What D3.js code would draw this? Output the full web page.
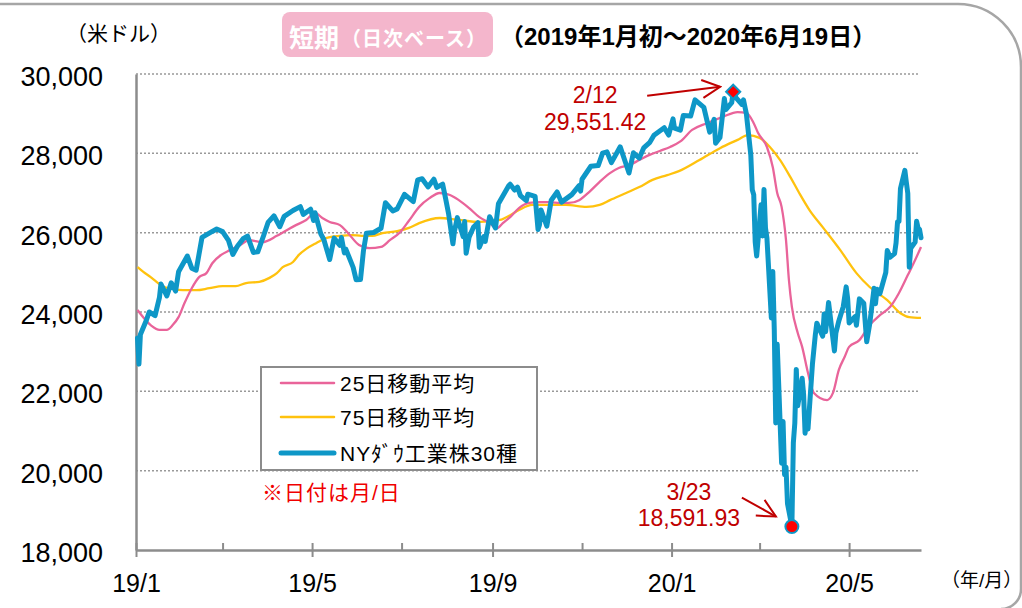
<!DOCTYPE html>
<html>
<head>
<meta charset="utf-8">
<script src="https://cdn.jsdelivr.net/npm/d3@7"></script>
<style>
  body { margin: 0; background: #fff; }
  svg { display: block; font-family: "Liberation Sans", Arial, "Noto Sans CJK JP", sans-serif; }
</style>
</head>
<body>
<div id="vis"></div>
<script>
const dowDates = [
  "2019-01-02","2019-01-03","2019-01-04","2019-01-08","2019-01-10","2019-01-14","2019-01-17","2019-01-18",
  "2019-01-22","2019-01-25","2019-01-28","2019-01-30","2019-02-05","2019-02-08","2019-02-11","2019-02-15",
  "2019-02-22","2019-02-25","2019-03-01","2019-03-05","2019-03-08","2019-03-11","2019-03-15","2019-03-18",
  "2019-03-22","2019-03-25","2019-03-29","2019-04-01","2019-04-05","2019-04-09","2019-04-12","2019-04-18",
  "2019-04-23","2019-04-25","2019-04-30","2019-05-02","2019-05-03","2019-05-07","2019-05-09","2019-05-13",
  "2019-05-16","2019-05-20","2019-05-21","2019-05-23","2019-05-24","2019-05-29","2019-05-31","2019-06-03",
  "2019-06-05","2019-06-07","2019-06-12","2019-06-17","2019-06-20","2019-06-25","2019-06-28","2019-07-03",
  "2019-07-09","2019-07-12","2019-07-15","2019-07-19","2019-07-23","2019-07-25","2019-07-29","2019-07-31",
  "2019-08-02","2019-08-05","2019-08-06","2019-08-08","2019-08-12","2019-08-13","2019-08-14","2019-08-16",
  "2019-08-19","2019-08-22","2019-08-23","2019-08-26","2019-08-27","2019-08-30","2019-09-03","2019-09-05",
  "2019-09-12","2019-09-13","2019-09-16","2019-09-18","2019-09-20","2019-09-24","2019-09-25","2019-09-30",
  "2019-10-02","2019-10-03","2019-10-04","2019-10-08","2019-10-11","2019-10-15","2019-10-18","2019-10-25",
  "2019-10-30","2019-10-31","2019-11-01","2019-11-07","2019-11-12","2019-11-15","2019-11-18","2019-11-21",
  "2019-11-27","2019-12-03","2019-12-06","2019-12-10","2019-12-13","2019-12-17","2019-12-20","2019-12-27",
  "2019-12-30","2020-01-02","2020-01-03","2020-01-07","2020-01-09","2020-01-14","2020-01-17","2020-01-23",
  "2020-01-27","2020-01-30","2020-01-31","2020-02-03","2020-02-06","2020-02-07","2020-02-11","2020-02-12",
  "2020-02-14","2020-02-18","2020-02-19","2020-02-21","2020-02-24","2020-02-25","2020-02-26","2020-02-27",
  "2020-02-28","2020-03-02","2020-03-03","2020-03-04","2020-03-05","2020-03-06","2020-03-09","2020-03-10",
  "2020-03-11","2020-03-12","2020-03-13","2020-03-16","2020-03-17","2020-03-18","2020-03-19","2020-03-20",
  "2020-03-23","2020-03-24","2020-03-25","2020-03-26","2020-03-27","2020-03-30","2020-03-31","2020-04-01",
  "2020-04-02","2020-04-03","2020-04-06","2020-04-08","2020-04-09","2020-04-13","2020-04-14","2020-04-15",
  "2020-04-17","2020-04-21","2020-04-22","2020-04-24","2020-04-27","2020-04-29","2020-04-30","2020-05-01",
  "2020-05-05","2020-05-06","2020-05-08","2020-05-11","2020-05-13","2020-05-15","2020-05-18","2020-05-19",
  "2020-05-20","2020-05-22","2020-05-26","2020-05-27","2020-05-29","2020-06-01","2020-06-02","2020-06-03",
  "2020-06-04","2020-06-05","2020-06-08","2020-06-09","2020-06-10","2020-06-11","2020-06-12","2020-06-15",
  "2020-06-16","2020-06-17","2020-06-18","2020-06-19"
];
const dowValues = [
  23346, 22686, 23433, 23787, 24001, 23910, 24370, 24706,
  24405, 24737, 24528, 25014, 25411, 25106, 25053, 25883,
  26031, 26091, 26026, 25806, 25450, 25650, 25849, 25914,
  25502, 25516, 25929, 26258, 26425, 26150, 26412, 26559,
  26656, 26462, 26592, 26307, 26504, 25965, 25828, 25324,
  25862, 25679, 25877, 25490, 25586, 25126, 24815, 24819,
  25540, 25984, 26004, 26112, 26753, 26548, 26600, 26966,
  26783, 27332, 27359, 27154, 27349, 27141, 27222, 26864,
  26485, 25718, 26030, 26379, 25897, 26280, 25480, 25886,
  26135, 26253, 25629, 25899, 25778, 26403, 26118, 26728,
  27182, 27220, 27076, 27147, 26935, 26808, 26970, 26917,
  26079, 26201, 26573, 26165, 26817, 27025, 26770, 26959,
  27186, 27046, 27347, 27675, 27691, 28005, 28036, 27766,
  28164, 27503, 28015, 27881, 28135, 28268, 28455, 28645,
  28462, 28868, 28635, 28583, 28956, 28940, 29348, 29160,
  28535, 28859, 28256, 28400, 29380, 29103, 29276, 29551,
  29398, 29232, 29348, 28992, 27961, 27081, 26957, 25766,
  25409, 26703, 25917, 27091, 26121, 25865, 23851, 25018,
  23553, 21201, 23186, 20189, 21237, 19899, 20087, 19174,
  18592, 20705, 21200, 22552, 21637, 22328, 21917, 20944,
  21413, 21053, 22680, 23434, 23719, 23390, 23950, 23505,
  24242, 23019, 23475, 23775, 24134, 24634, 24346, 23724,
  23883, 23665, 24331, 24222, 23248, 23686, 24598, 24207,
  24576, 24465, 24995, 25548, 25383, 25475, 25742, 26270,
  26282, 27111, 27572, 27272, 26990, 25128, 25606, 25763,
  26290, 26120, 26080, 25871
];

// 25-day moving average
const ma25Dates = [
  "2019-01-02","2019-01-11","2019-01-17","2019-01-22","2019-01-26","2019-01-30","2019-02-03","2019-02-08",
  "2019-02-13","2019-02-18","2019-02-22","2019-02-28","2019-03-06","2019-03-13","2019-03-19","2019-03-28",
  "2019-04-07","2019-04-14","2019-04-20","2019-04-27","2019-05-03","2019-05-08","2019-05-13","2019-05-20",
  "2019-05-25","2019-06-02","2019-06-09","2019-06-17","2019-06-23","2019-06-30","2019-07-06","2019-07-13",
  "2019-07-20","2019-07-27","2019-08-03","2019-08-09","2019-08-16","2019-08-23","2019-08-30","2019-09-04",
  "2019-09-08","2019-09-13","2019-09-19","2019-09-26","2019-10-03","2019-10-10","2019-10-17","2019-10-23",
  "2019-10-30","2019-11-06","2019-11-13","2019-11-20","2019-11-26","2019-12-03","2019-12-10","2019-12-17",
  "2019-12-24","2019-12-31","2020-01-07","2020-01-15","2020-01-25","2020-02-05","2020-02-15","2020-02-21",
  "2020-02-26","2020-02-29","2020-03-06","2020-03-10","2020-03-13","2020-03-16","2020-03-19","2020-03-21",
  "2020-03-23","2020-03-27","2020-03-30","2020-04-03","2020-04-07","2020-04-16","2020-04-20","2020-04-24",
  "2020-04-28","2020-05-01","2020-05-08","2020-05-15","2020-05-22","2020-05-29","2020-06-04","2020-06-10",
  "2020-06-15","2020-06-19"
];
const ma25Values = [
  24050, 23670, 23550, 23550, 23670, 23870, 24220, 24600,
  24880, 24980, 25230, 25440, 25560, 25690, 25810, 25760,
  25920, 26070, 26190, 26320, 26500, 26370, 26270, 26190,
  26010, 25690, 25610, 25640, 25810, 26010, 26300, 26650,
  26870, 27000, 26950, 26820, 26620, 26390, 26240, 26110,
  26240, 26390, 26620, 26750, 26770, 26770, 26750, 26750,
  26820, 27030, 27280, 27500, 27630, 27700, 27830, 27960,
  28060, 28160, 28300, 28590, 28760, 28920, 29040, 29020,
  28760, 28510, 28160, 27650, 27000, 26650, 25810, 24800,
  24130, 23470, 23120, 22460, 21960, 21780, 21960, 22540,
  22870, 23120, 23290, 23670, 23920, 24130, 24480, 24930,
  25310, 25640
];

// 75-day moving average
const ma75Dates = [
  "2019-01-02","2019-01-06","2019-01-11","2019-01-15","2019-01-19","2019-01-26","2019-02-02","2019-02-11",
  "2019-02-20","2019-03-01","2019-03-10","2019-03-17","2019-03-26","2019-04-02","2019-04-07","2019-04-11",
  "2019-04-18","2019-04-22","2019-04-27","2019-05-04","2019-05-11","2019-05-20","2019-05-28","2019-06-04",
  "2019-06-11","2019-06-18","2019-06-28","2019-07-06","2019-07-13","2019-07-27","2019-08-09","2019-08-23",
  "2019-09-06","2019-09-13","2019-09-19","2019-09-28","2019-10-10","2019-10-21","2019-11-04","2019-11-13",
  "2019-11-20","2019-12-01","2019-12-10","2019-12-19","2019-12-29","2020-01-06","2020-01-20","2020-02-03",
  "2020-02-15","2020-02-22","2020-03-01","2020-03-08","2020-03-15","2020-03-22","2020-03-28","2020-04-04",
  "2020-04-13","2020-04-25","2020-05-06","2020-05-15","2020-05-27","2020-06-05","2020-06-11","2020-06-19"
];
const ma75Values = [
  25130, 25010, 24880, 24760, 24650, 24580, 24550, 24550,
  24600, 24650, 24650, 24730, 24760, 24860, 24980, 25130,
  25260, 25440, 25590, 25740, 25870, 25920, 25940, 25920,
  25920, 25990, 26040, 26120, 26240, 26370, 26320, 26270,
  26320, 26440, 26570, 26700, 26700, 26700, 26650, 26700,
  26820, 27000, 27150, 27330, 27450, 27550, 27830, 28130,
  28340, 28460, 28390, 28160, 27830, 27400, 27000, 26570,
  26140, 25560, 24980, 24630, 24300, 23970, 23870, 23850
];

const yTicks = [18000, 20000, 22000, 24000, 26000, 28000, 30000];
const xTickDates = ["2019-01-01", "2019-05-01", "2019-09-01", "2020-01-01", "2020-05-01"];
const xTickLabels = ["19/1", "19/5", "19/9", "20/1", "20/5"];
const xMinorDates = ["2019-03-01", "2019-07-01", "2019-11-01", "2020-03-01"];

const legendLabels = ["25日移動平均", "75日移動平均", "NYﾀﾞｳ工業株30種"];

// annotated points: high and low
const annoDates = ["2020-02-12", "2020-03-23"];
const annoValues = [29551.42, 18591.93];
const annoLabels = ["2/12", "3/23"];

const parseDate = d3.timeParse("%Y-%m-%d");

const BLUE = "#0e97c7";
const PINK = "#e9649a";
const YELLOW = "#ffc20e";
const DARKRED = "#c00000";
const GRAY = "#8c8c8c";

const SVG = d3.select("#vis")
    .append("svg")
    .attr("width", 1022)
    .attr("height", 608);

const X_SCALE = d3.scaleTime()
    .domain([parseDate("2019-01-01"), parseDate("2020-06-19")])
    .range([136, 921]);

const Y_SCALE = d3.scaleLinear()
    .domain([18000, 30000])
    .range([550, 74]);

// outer frame (only top and right part is visible)
SVG.append("path")
    .attr("d", "M-10,4 H958 A63,63 0 0 1 1021,67 V589 A20,20 0 0 1 1001,609")
    .attr("fill", "none")
    .attr("stroke", "#a6a6a6")
    .attr("stroke-width", 2.5);

// arrow marker
SVG.append("defs").append("marker")
    .attr("id", "arr")
    .attr("viewBox", "-20 -11 22 22")
    .attr("refX", 0)
    .attr("refY", 0)
    .attr("markerWidth", 22)
    .attr("markerHeight", 22)
    .attr("markerUnits", "userSpaceOnUse")
    .attr("orient", "auto")
    .append("path")
    .attr("d", "M-18,-9 L0,0 L-18,9")
    .attr("fill", "none")
    .attr("stroke", DARKRED)
    .attr("stroke-width", 2);

// grid lines
SVG.selectAll(".grid")
    .data(yTicks.filter(d => d > 18000))
    .enter()
    .append("line")
    .attr("class", "grid")
    .attr("x1", 136)
    .attr("x2", 920)
    .attr("y1", d => Y_SCALE(d))
    .attr("y2", d => Y_SCALE(d))
    .attr("stroke", "#999")
    .attr("stroke-width", 1.5)
    .attr("stroke-dasharray", "2,2");

// y axis
const yAxis = SVG.append("g")
    .attr("transform", "translate(136,0)")
    .call(d3.axisLeft(Y_SCALE).tickValues(yTicks).tickSize(0).tickPadding(33).tickFormat(d3.format(",")));
yAxis.select(".domain").attr("stroke", GRAY).attr("stroke-width", 2.5);
yAxis.selectAll("text")
    .attr("font-size", "27px")
    .attr("font-family", "Liberation Sans, Arial, sans-serif")
    .attr("fill", "#000")
    .attr("dy", "0.43em");

// x axis, minor ticks
const xMinor = SVG.append("g")
    .attr("transform", "translate(0,550)")
    .call(d3.axisBottom(X_SCALE).tickValues(xMinorDates.map(parseDate)).tickFormat(""));
xMinor.select(".domain").remove();
xMinor.selectAll("line").attr("y1", -7).attr("y2", 0).attr("stroke", GRAY).attr("stroke-width", 2);

// x axis, major ticks
const xAxis = SVG.append("g")
    .attr("transform", "translate(0,550)")
    .call(d3.axisBottom(X_SCALE)
        .tickValues(xTickDates.map(parseDate))
        .tickSizeOuter(0)
        .tickFormat((d, i) => xTickLabels[i]));
xAxis.select(".domain").attr("stroke", GRAY).attr("stroke-width", 2.5);
xAxis.selectAll("line").attr("y1", -7).attr("y2", 7).attr("stroke", GRAY).attr("stroke-width", 2);
xAxis.selectAll("text")
    .attr("y", 42)
    .attr("dy", 0)
    .attr("font-size", "25px")
    .attr("font-family", "Liberation Sans, Arial, sans-serif")
    .attr("fill", "#000");

// series
const toPoints = (dates, values) => dates.map((d, i) => ({ date: parseDate(d), value: values[i] }));

const smoothLine = d3.line()
    .x(d => X_SCALE(d.date))
    .y(d => Y_SCALE(d.value))
    .curve(d3.curveMonotoneX);

const rawLine = d3.line()
    .x(d => X_SCALE(d.date))
    .y(d => Y_SCALE(d.value));

SVG.append("path")
    .datum(toPoints(ma75Dates, ma75Values))
    .attr("d", smoothLine)
    .attr("fill", "none")
    .attr("stroke", YELLOW)
    .attr("stroke-width", 2.3);

SVG.append("path")
    .datum(toPoints(ma25Dates, ma25Values))
    .attr("d", smoothLine)
    .attr("fill", "none")
    .attr("stroke", PINK)
    .attr("stroke-width", 2.3);

SVG.append("path")
    .datum(toPoints(dowDates, dowValues))
    .attr("d", rawLine)
    .attr("fill", "none")
    .attr("stroke", BLUE)
    .attr("stroke-width", 5)
    .attr("stroke-linejoin", "round")
    .attr("stroke-linecap", "round");

// high / low markers and labels
const hx = X_SCALE(parseDate(annoDates[0])), hy = Y_SCALE(annoValues[0]);
const lx = X_SCALE(parseDate(annoDates[1])), ly = Y_SCALE(annoValues[1]);

SVG.append("path")
    .attr("d", d3.symbol(d3.symbolSquare, 100)())
    .attr("transform", "translate(" + hx + "," + hy + ") rotate(45)")
    .attr("fill", "#ff0000")
    .attr("stroke", BLUE)
    .attr("stroke-width", 2);

SVG.append("circle")
    .attr("cx", lx)
    .attr("cy", ly)
    .attr("r", 6.5)
    .attr("fill", "#ff0000")
    .attr("stroke", BLUE)
    .attr("stroke-width", 2);

SVG.append("line")
    .attr("x1", hx - 86).attr("y1", hy + 4)
    .attr("x2", hx - 13).attr("y2", hy - 5)
    .attr("stroke", DARKRED).attr("stroke-width", 2)
    .attr("marker-end", "url(#arr)");

SVG.append("line")
    .attr("x1", lx - 50).attr("y1", ly - 29)
    .attr("x2", lx - 16).attr("y2", ly - 10)
    .attr("stroke", DARKRED).attr("stroke-width", 2)
    .attr("marker-end", "url(#arr)");

const fmt = d3.format(",.2f");
const annoText = [
    { x: hx - 138, y1: hy + 11, y2: hy + 38, i: 0 },
    { x: lx - 103, y1: ly - 27, y2: ly - 1, i: 1 }
];
annoText.forEach(a => {
    SVG.append("text")
        .attr("x", a.x).attr("y", a.y1)
        .attr("text-anchor", "middle")
        .attr("font-size", "23px")
        .attr("fill", DARKRED)
        .text(annoLabels[a.i]);
    SVG.append("text")
        .attr("x", a.x).attr("y", a.y2)
        .attr("text-anchor", "middle")
        .attr("font-size", "23px")
        .attr("fill", DARKRED)
        .text(fmt(annoValues[a.i]));
});

// legend
SVG.append("rect")
    .attr("x", 261).attr("y", 367)
    .attr("width", 276).attr("height", 103)
    .attr("fill", "#fff")
    .attr("stroke", GRAY)
    .attr("stroke-width", 2);

const legendColors = [PINK, YELLOW, BLUE];
const legendWidths = [2.5, 2.5, 5];
const legendY = [383, 417, 453];

const items = SVG.selectAll(".legend")
    .data(legendLabels)
    .enter()
    .append("g")
    .attr("class", "legend");

items.append("line")
    .attr("x1", 281).attr("x2", 334)
    .attr("y1", (d, i) => legendY[i])
    .attr("y2", (d, i) => legendY[i])
    .attr("stroke", (d, i) => legendColors[i])
    .attr("stroke-width", (d, i) => legendWidths[i])
    .attr("stroke-linecap", "round");

items.append("text")
    .attr("x", 340)
    .attr("y", (d, i) => legendY[i])
    .attr("dominant-baseline", "central")
    .attr("font-size", "21px")
    .attr("letter-spacing", "1px")
    .attr("fill", "#000")
    .text(d => d);

SVG.append("text")
    .attr("x", 262).attr("y", 492)
    .attr("dominant-baseline", "central")
    .attr("font-size", "21px")
    .attr("letter-spacing", "1px")
    .attr("fill", "#f00000")
    .text("※日付は月/日");

// titles
SVG.append("text")
    .attr("x", 66).attr("y", 33)
    .attr("dominant-baseline", "central")
    .attr("font-size", "21px")
    .attr("fill", "#000")
    .text("（米ドル）");

SVG.append("rect")
    .attr("x", 282).attr("y", 12)
    .attr("width", 211).attr("height", 45)
    .attr("rx", 8)
    .attr("fill", "#f4b6cc");

SVG.append("text")
    .attr("x", 289).attr("y", 38)
    .attr("dominant-baseline", "central")
    .attr("font-size", "25px")
    .attr("font-weight", "bold")
    .attr("fill", "#fff")
    .text("短期");

SVG.append("text")
    .attr("x", 341).attr("y", 39)
    .attr("dominant-baseline", "central")
    .attr("font-size", "20px")
    .attr("font-weight", "bold")
    .attr("letter-spacing", "1px")
    .attr("fill", "#fff")
    .text("（日次ベース）");

SVG.append("text")
    .attr("x", 500).attr("y", 36)
    .attr("dominant-baseline", "central")
    .attr("font-size", "24px")
    .attr("font-weight", "bold")
    .attr("fill", "#000")
    .text("（2019年1月初～2020年6月19日）");

SVG.append("text")
    .attr("x", 941).attr("y", 580)
    .attr("dominant-baseline", "central")
    .attr("font-size", "19px")
    .attr("fill", "#000")
    .text("（年/月）");
</script>
</body>
</html>
